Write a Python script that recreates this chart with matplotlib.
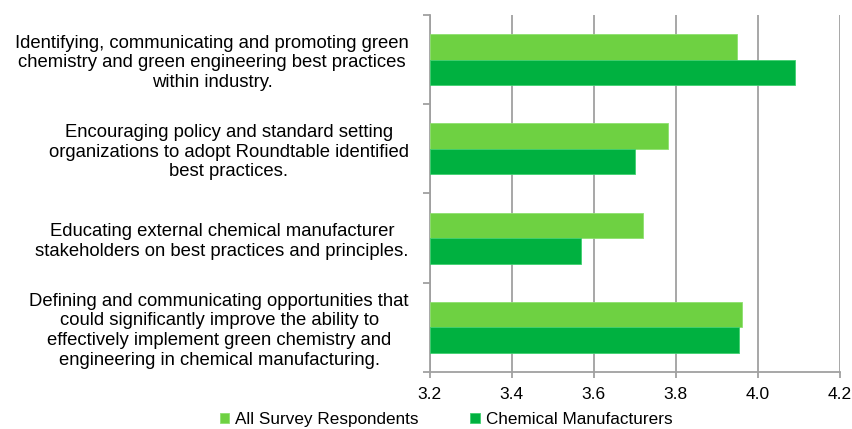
import numpy as np
import matplotlib.pyplot as plt

plt.rcParams['font.family'] = ['Liberation Sans', 'DejaVu Sans']

# categories, top to bottom
categories = [
    "Identifying, communicating and promoting green\nchemistry and green engineering best practices\nwithin industry.",
    "Encouraging policy and standard setting\norganizations to adopt Roundtable identified\nbest practices.",
    "Educating external chemical manufacturer\nstakeholders on best practices and principles.",
    "Defining and communicating opportunities that\ncould significantly improve the ability to\neffectively implement green chemistry and\nengineering in chemical manufacturing.",
]
all_respondents = [3.95, 3.78, 3.72, 3.96]
chem_manufacturers = [4.09, 3.70, 3.57, 3.955]
series_names = ["All Survey Respondents", "Chemical Manufacturers"]
x_ticks = [3.2, 3.4, 3.6, 3.8, 4.0, 4.2]

light = '#6ed142'
dark = '#00b140'
grey = '#a0a0a0'

fig = plt.figure(figsize=(8.53, 4.29), dpi=100)
ax = fig.add_axes([0.5037, 0.133, 0.4811, 0.832])

y = np.arange(len(categories))
h = 1 / 3.5
ax.barh(y - h / 2, np.array(all_respondents) - 3.2, left=3.2, height=h,
        color=light, edgecolor='#8ee070', linewidth=0.6, label=series_names[0], zorder=3)
ax.barh(y + h / 2, np.array(chem_manufacturers) - 3.2, left=3.2, height=h,
        color=dark, edgecolor='#40d070', linewidth=0.6, label=series_names[1], zorder=3)

ax.set_xlim(3.2, 4.2)
ax.set_ylim(len(categories) - 0.5, -0.5)
ax.set_xticks(x_ticks)
ax.set_xticklabels([f"{v:.1f}" for v in x_ticks], fontsize=12.5)
ax.xaxis.grid(True, color=grey, linewidth=1.3, zorder=0)

# category boundary ticks and centred labels
ax.set_yticks(np.arange(-0.5, len(categories), 1.0))
ax.set_yticklabels([])
ax.set_yticks(y, minor=True)
ax.set_yticklabels(categories, minor=True, fontsize=13.3, multialignment='center',
                   linespacing=1.2)
ax.tick_params(axis='y', which='minor', length=0, pad=15)
ax.tick_params(axis='y', which='major', length=5, color=grey, width=1.3)
ax.tick_params(axis='x', length=4, color=grey, width=1.3, pad=7)

for s in ['top', 'right']:
    ax.spines[s].set_visible(False)
for s in ['left', 'bottom']:
    ax.spines[s].set_color(grey)
    ax.spines[s].set_linewidth(1.3)

fig.legend(loc='center', bbox_to_anchor=(0.523, 0.022), ncol=2, frameon=False,
           fontsize=12.3, handlelength=0.55, handleheight=0.55, handletextpad=0.35,
           columnspacing=3.0, borderpad=0.1)

fig.savefig('out.png', dpi=100)
